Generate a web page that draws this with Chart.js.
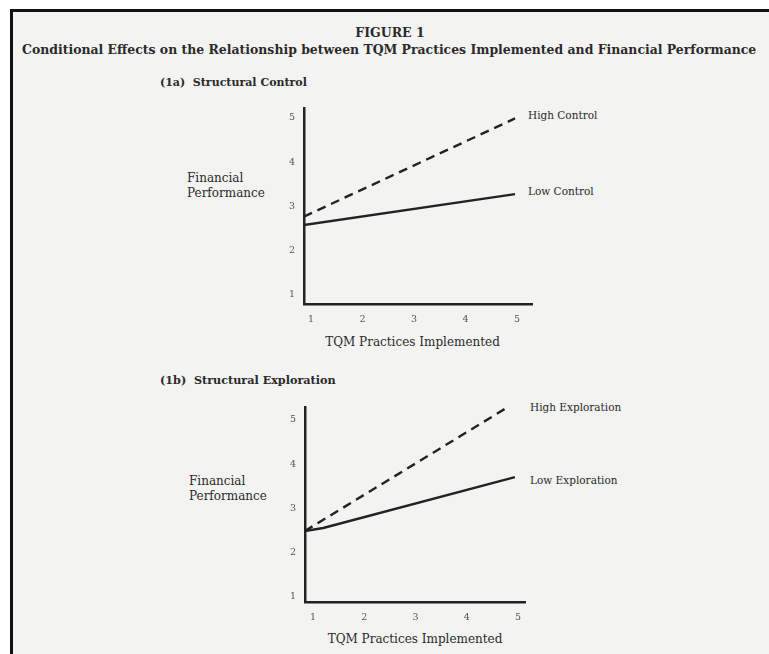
<!DOCTYPE html>
<html>
<head>
<meta charset="utf-8">
<script src="https://cdn.jsdelivr.net/npm/chart.js@4.4.1/dist/chart.umd.min.js"></script>
<style>
  html, body { margin: 0; padding: 0; background: #ffffff; }
  body { width: 769px; height: 654px; position: relative; overflow: hidden; font-family: "DejaVu Serif", "Liberation Serif", serif; color: #2a2a2a; }
  #page { position: absolute; left: 10px; top: 9px; width: 759px; height: 645px; background: #f3f3f2; border-top: 3px solid #111; border-left: 3px solid #111; box-sizing: border-box; }
  .t { position: absolute; white-space: nowrap; line-height: 1; }
  .c { position: absolute; left: 0; top: 0; width: 769px; height: 654px; }
</style>
</head>
<body>
<div id="page"></div>
<div class="t" id="fig" style="left:0;width:780px;text-align:center;top:27px;font-size:12.5px;font-weight:bold;">FIGURE 1</div>
<div class="t" id="title" style="left:22px;top:44px;font-size:12.45px;font-weight:bold;">Conditional Effects on the Relationship between TQM Practices Implemented and Financial Performance</div>
<div class="t" style="left:160px;top:77px;font-size:11px;font-weight:bold;">(1a)&nbsp; Structural Control</div>
<div class="t" style="left:160px;top:375px;font-size:11.2px;font-weight:bold;">(1b)&nbsp; Structural Exploration</div>
<div class="t" style="left:187px;top:171px;font-size:12px;line-height:15px;">Financial<br>Performance</div>
<div class="t" style="left:189px;top:474px;font-size:12px;line-height:15px;">Financial<br>Performance</div>
<div class="t" style="left:0;width:825px;text-align:center;top:336px;font-size:12px;">TQM Practices Implemented</div>
<div class="t" style="left:0;width:830px;text-align:center;top:633px;font-size:12px;">TQM Practices Implemented</div>
<div class="t" style="left:528px;top:110px;font-size:10.5px;">High Control</div>
<div class="t" style="left:528px;top:186px;font-size:10.5px;">Low Control</div>
<div class="t" style="left:530px;top:402px;font-size:10.5px;">High Exploration</div>
<div class="t" style="left:530px;top:475px;font-size:10.5px;">Low Exploration</div>
<div class="c"><canvas id="c1"></canvas></div>
<div class="c"><canvas id="c2"></canvas></div>
<script>
// ---- data ----
const xTicks = [1, 2, 3, 4, 5];
const yTicks = [1, 2, 3, 4, 5];

// Panel 1a: Structural Control
const controlX = [0.86, 4.96];
const highControl = [2.77, 4.99];
const lowControl = [2.58, 3.28];

// Panel 1b: Structural Exploration
const highExplX = [0.84, 4.80];
const highExploration = [2.49, 5.29];
const lowExplX = [0.84, 1.2, 4.94];
const lowExploration = [2.49, 2.56, 3.71];

const toPts = (xs, ys) => xs.map((x, i) => ({ x: x, y: ys[i] }));

const INK = '#222222';
const TICK_FONT = { family: '"DejaVu Serif", "Liberation Serif", serif', size: 9.5 };

function makeChart(id, box, xr, yr, datasets) {
  const W = 30, H = 30;
  return new Chart(document.getElementById(id), {
    type: 'line',
    data: { datasets: datasets },
    options: {
      responsive: true,
      maintainAspectRatio: false,
      animation: false,
      events: [],
      layout: { padding: { left: box.left - W, top: box.top, right: 769 - box.right, bottom: 654 - box.bottom - H } },
      plugins: { legend: { display: false }, tooltip: { enabled: false }, title: { display: false } },
      elements: { point: { radius: 0 }, line: { tension: 0, borderCapStyle: 'butt' } },
      scales: {
        x: {
          type: 'linear', min: xr[0], max: xr[1],
          afterBuildTicks: s => { s.ticks = xTicks.map(v => ({ value: v })); },
          afterFit: s => { s.height = H; },
          grid: { display: false, drawTicks: false },
          border: { display: true, color: INK, width: 2.5 },
          ticks: { color: '#555', font: TICK_FONT, padding: 10, maxRotation: 0, autoSkip: false }
        },
        y: {
          type: 'linear', min: yr[0], max: yr[1],
          afterBuildTicks: s => { s.ticks = yTicks.map(v => ({ value: v })); },
          afterFit: s => { s.width = W; },
          grid: { display: false, drawTicks: false },
          border: { display: true, color: INK, width: 2.5 },
          ticks: { color: '#555', font: TICK_FONT, padding: 9, autoSkip: false }
        }
      }
    }
  });
}

makeChart('c1', { left: 304, right: 532, top: 108, bottom: 304 }, [0.864, 5.29], [0.797, 5.226], [
  { label: 'High Control', data: toPts(controlX, highControl), borderColor: INK, borderWidth: 2.4, borderDash: [9, 6], fill: false },
  { label: 'Low Control', data: toPts(controlX, lowControl), borderColor: INK, borderWidth: 2.4, fill: false }
]);

makeChart('c2', { left: 305, right: 525, top: 407, bottom: 602 }, [0.844, 5.137], [0.887, 5.294], [
  { label: 'High Exploration', data: toPts(highExplX, highExploration), borderColor: INK, borderWidth: 2.4, borderDash: [9, 6], fill: false },
  { label: 'Low Exploration', data: toPts(lowExplX, lowExploration), borderColor: INK, borderWidth: 2.4, fill: false }
]);
</script>
</body>
</html>
